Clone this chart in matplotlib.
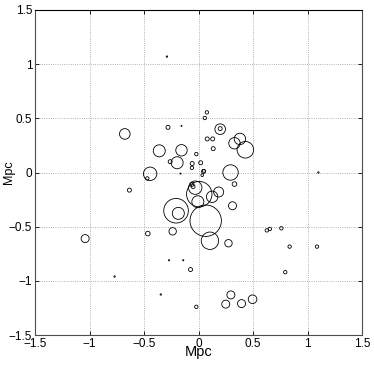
import numpy as np
import matplotlib
matplotlib.use("Agg")
import matplotlib.pyplot as plt

# === Data: galaxy positions (Mpc) and marker radius (px) ===
x_mpc = [-0.29, 0.077, 0.058, -0.28, -0.156, -0.676, 0.199, 0.199, 0.08, 0.13,
         0.135, 0.38, 0.33, 0.43, -0.36, -0.156, -0.196, -0.26, -0.02, -0.058,
         -0.06, 0.02, 0.046, 0.05, 0.034, -0.444, -0.47, 0.294, 0.33, -0.634,
         -0.03, 0.007, -0.06, -0.05, 0.185, 0.125, -0.006, -0.206, -0.185, 0.066,
         0.312, -0.237, -0.465, -1.04, 0.105, 0.275, 0.627, 0.655, 0.76, 0.836,
         1.087, 1.10, -0.27, -0.14, -0.073, 0.796, -0.77, -0.346, -0.02, 0.297,
         0.25, 0.395, 0.496, -0.165]
y_mpc = [1.07, 0.555, 0.503, 0.417, 0.43, 0.356, 0.40, 0.405, 0.31, 0.31,
         0.22, 0.31, 0.27, 0.21, 0.20, 0.205, 0.09, 0.10, 0.17, 0.083,
         0.043, 0.09, 0.01, 0.015, -0.025, -0.012, -0.055, 0.0, -0.107, -0.163,
         -0.14, -0.20, -0.11, -0.13, -0.18, -0.224, -0.27, -0.353, -0.377, -0.445,
         -0.307, -0.543, -0.564, -0.61, -0.63, -0.653, -0.534, -0.521, -0.515, -0.684,
         -0.684, 0.0, -0.81, -0.81, -0.896, -0.92, -0.96, -1.126, -1.24, -1.13,
         -1.215, -1.21, -1.17, -0.01]
radius_px = [0.7, 1.7, 1.7, 2.0, 0.5, 5.3, 5.3, 2.0, 2.0, 2.0,
             2.0, 5.7, 5.7, 8.3, 6.0, 5.7, 6.0, 2.0, 1.7, 2.0,
             1.7, 2.0, 2.0, 1.5, 1.3, 6.7, 1.7, 7.7, 2.3, 2.0,
             6.7, 12.7, 2.0, 2.0, 5.0, 5.7, 6.0, 12.3, 6.0, 15.7,
             4.0, 3.7, 2.3, 4.0, 8.7, 3.7, 1.7, 1.7, 1.7, 1.7,
             1.7, 0.7, 0.6, 0.6, 2.0, 1.7, 0.7, 0.7, 1.7, 4.0,
             4.0, 4.0, 4.3, 0.5]
ticks = [-1.5, -1, -0.5, 0, 0.5, 1, 1.5]
tick_labels = ["\u22121.5", "\u22121", "\u22120.5", "0", "0.5", "1", "1.5"]

plt.rcParams['font.family'] = ['Liberation Sans', 'DejaVu Sans']

fig = plt.figure(figsize=(3.74, 3.66), dpi=100)
ax = fig.add_axes([35 / 374, 31 / 366, 327 / 374, 325 / 366])

# marker diameter in points from radius in pixels
r = np.array(radius_px)
sizes = (2 * r * 72 / 100) ** 2
ax.scatter(x_mpc, y_mpc, s=sizes, facecolors='none', edgecolors='k',
           linewidths=0.6, zorder=3)

# === Axes styling (MATLAB look) ===
ax.set_xlim(-1.5, 1.5)
ax.set_ylim(-1.5, 1.5)
ax.set_xticks(ticks)
ax.set_yticks(ticks)
ax.set_xticklabels(tick_labels, fontsize=8.5)
ax.set_yticklabels(tick_labels, fontsize=8.5)
ax.tick_params(direction='in', length=3, width=0.6, top=True, right=True, pad=2)
ax.grid(True, linestyle=':', color='0.6', linewidth=0.6)
for sp in ax.spines.values():
    sp.set_linewidth(0.8)
    sp.set_color('0.3')
ax.spines['top'].set_color('k')

ax.set_xlabel("Mpc", fontsize=10.5)
ax.xaxis.set_label_coords(0.5, -0.032)
ax.set_ylabel("Mpc", fontsize=9)
ax.yaxis.set_label_coords(-0.061, 0.5)

fig.savefig("out.png", dpi=100)
